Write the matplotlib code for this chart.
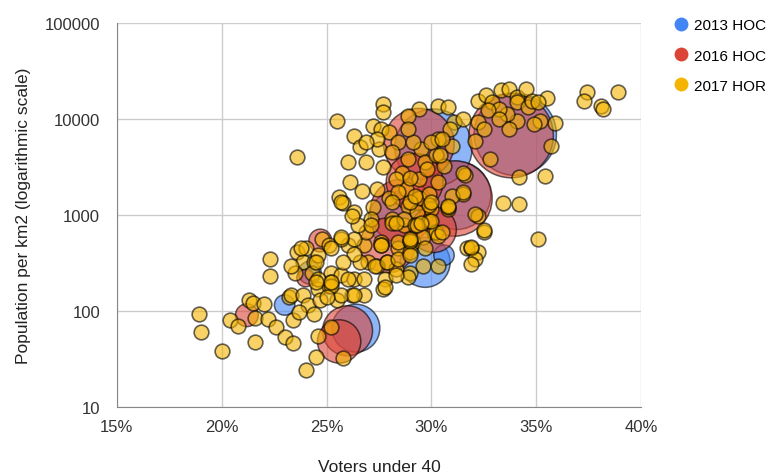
import numpy as np
import matplotlib
matplotlib.use("Agg")
import matplotlib.pyplot as plt
from matplotlib.lines import Line2D
from matplotlib.ticker import FuncFormatter

plt.rcParams['font.family'] = ['Liberation Sans', 'DejaVu Sans']

# 2013 HOC bubbles: voters under 40 (%), population per km2, bubble weight
hoc13_x = [34.0, 31.2, 30.1, 29.7, 30.6, 26.4, 28.3, 24.2, 23.0]
hoc13_y = [6900, 1600, 5000, 320, 380, 66, 900, 250, 115]
hoc13_w = [13.0, 9.0, 11.5, 4.8, 0.8, 4.4, 5.8, 1.0, 0.8]

# 2016 HOC bubbles
hoc16_x = [33.8, 31.1, 29.4, 28.6, 27.9, 26.0, 25.6, 24.7, 21.2, 24.0, 29.2, 30.1]
hoc16_y = [6700, 1480, 5500, 1100, 480, 62, 48, 540, 90, 220, 2200, 700]
hoc16_w = [13.7, 10.9, 9.6, 7.8, 5.8, 4.8, 3.6, 1.0, 1.0, 0.6, 6.2, 4.0]

# 2017 HOR electorates
hor17_x = [
    18.9, 19.0, 20.0, 20.4, 20.8, 21.3, 21.5, 21.6, 21.6, 22.0, 22.2, 22.3, 22.3,
    22.6, 23.0, 23.4, 23.4, 23.2, 24.0, 24.5, 24.6, 25.2, 25.8, 23.6, 25.5,
    23.6, 24.0, 23.9, 24.4, 23.5, 24.3, 25.2, 23.3, 23.9, 24.6, 25.1, 24.1,
    24.7, 25.5, 23.7, 24.4, 25.2, 25.7, 26.3, 26.8, 26.2, 25.7, 26.0, 26.8,
    27.6, 27.0, 27.8, 27.9, 23.8, 24.8, 25.1, 23.3,
    27.7, 27.7, 29.4, 28.9, 27.2, 26.3, 26.6, 27.6, 28.0, 28.4, 27.5, 26.0,
    26.9, 27.7, 28.6, 29.5, 29.7, 30.2, 30.3, 31.0, 28.9, 26.1, 26.7, 25.6,
    25.8, 26.3, 27.2, 28.0, 28.1, 28.8, 28.9, 29.4, 29.9, 30.0, 30.8, 31.5,
    31.6, 32.2, 30.1, 29.1, 28.4, 27.6, 26.9, 26.3, 25.7, 28.3, 29.0, 27.4,
    26.6, 26.0, 25.2, 24.6, 27.7, 32.2, 31.7,
    27.4, 26.9, 28.1, 29.1, 30.0, 30.6, 28.3, 29.4, 30.3, 31.0, 27.4, 28.4,
    27.1, 28.7, 26.5,
    25.7, 28.1, 26.2, 27.1, 28.1, 28.7, 29.3, 29.9, 29.9, 29.2, 28.4, 29.0,
    29.6, 30.2, 25.7, 25.2, 24.6, 26.3, 27.6, 27.3, 27.9, 28.4, 29.0, 29.6,
    28.9, 28.3, 27.8, 26.8, 26.3, 25.0, 25.2, 24.5, 24.5, 25.8,
    29.0, 30.8, 32.1, 28.3, 29.3, 30.0, 30.3, 29.0, 29.7, 29.0, 30.3, 31.9,
    32.1, 31.9,
    37.4, 37.3, 38.1, 38.2, 38.9, 35.5, 35.9, 35.7, 35.4, 34.2, 34.2, 33.4,
    35.1, 32.8, 32.2, 32.6, 32.9, 33.3, 33.7, 34.1, 34.5, 34.1, 34.6, 34.8,
    35.1, 35.2, 34.9, 34.1, 33.6, 33.2, 32.7, 32.2, 32.5, 33.2, 33.7, 32.1,
    30.3, 30.8, 31.1, 31.5, 30.9, 30.5, 28.9, 31.5, 31.5, 32.5, 32.5, 31.9,
    30.8, 30.0, 29.2, 29.5, 30.5, 29.0, 29.8, 29.0, 30.4,
]
hor17_y = [
    92, 60, 38, 81, 69, 130, 122, 84, 47, 117, 83, 350, 233,
    68, 53, 46, 80, 140, 24, 33, 55, 68, 32, 4050, 9600,
    410, 450, 325, 325, 250, 250, 250, 145, 145, 170, 182, 115,
    129, 129, 98, 93, 200, 235, 215, 145, 145, 145, 480, 480,
    520, 325, 215, 325, 450, 560, 480, 295,
    14400, 11700, 12600, 10700, 8500, 6700, 5100, 7900, 7300, 5700, 4900, 3570,
    3570, 3160, 2760, 4900, 3570, 4170, 6200, 5250, 3830, 2180, 1790, 1520,
    1340, 1070, 1200, 1480, 910, 1860, 1250, 1480, 1660, 1150, 1150, 1660,
    2570, 980, 660, 520, 450, 480, 660, 560, 560, 275, 250, 295,
    325, 215, 180, 215, 170, 410, 450,
    6200, 5750, 4470, 5750, 5750, 3240, 2340, 2340, 2190, 1580, 1860, 1740,
    910, 780, 780,
    1350, 1350, 980, 780, 830, 910, 1070, 1260, 870, 780, 525, 540,
    590, 660, 590, 450, 380, 390, 480, 295, 325, 345, 410, 295,
    225, 235, 178, 215, 145, 138, 200, 325, 200, 325,
    1350, 1200, 1020, 830, 780, 870, 600, 540, 450, 380, 295, 450,
    345, 310,
    19000, 15200, 13700, 12600, 19000, 16500, 9100, 5200, 2530, 2460, 1300, 1340,
    560, 3830, 15500, 17800, 15100, 19800, 20500, 16900, 20500, 14900, 13200, 15500,
    14900, 9600, 8900, 9600, 11200, 12600, 12300, 9300, 7900, 10000, 7900, 5900,
    13700, 13200, 9300, 10000, 7900, 6200, 7900, 2760, 1740, 660, 700, 460,
    1250, 1350, 1590, 830, 660, 560, 3000, 2400, 4170,
]

blue = '#4285F4'
red = '#DB4437'
yellow = '#F4B400'

fig = plt.figure(figsize=(7.79, 4.77), dpi=100)
ax = fig.add_axes([0.150, 0.145, 0.673, 0.805])

edge = (0, 0, 0, 0.75)
scale = 270  # points^2 per unit weight

ax.scatter(hoc13_x, hoc13_y, s=np.array(hoc13_w) * scale, color=blue, alpha=0.6,
           edgecolors=edge, linewidths=1.1, zorder=2)
ax.scatter(hoc16_x, hoc16_y, s=np.array(hoc16_w) * scale, color=red, alpha=0.6,
           edgecolors=edge, linewidths=1.1, zorder=3)
ax.scatter(hor17_x, hor17_y, s=112, color=yellow, alpha=0.6,
           edgecolors=edge, linewidths=1.2, zorder=4)

ax.set_yscale('log')
ax.set_xlim(15, 40)
ax.set_ylim(10, 100000)
ax.set_xticks([15, 20, 25, 30, 35, 40])
ax.xaxis.set_major_formatter(FuncFormatter(lambda v, p: f'{v:.0f}%'))
ax.set_yticks([10, 100, 1000, 10000, 100000])
ax.yaxis.set_major_formatter(FuncFormatter(lambda v, p: f'{v:.0f}'))
ax.yaxis.set_minor_locator(matplotlib.ticker.NullLocator())
ax.tick_params(length=0, labelsize=12, colors='#333333')
ax.tick_params(axis='x', pad=9)
ax.tick_params(axis='y', pad=12)
ax.grid(True, color='#cccccc', linewidth=1)
ax.set_axisbelow(True)
for side in ['top', 'right']:
    ax.spines[side].set_visible(False)
for side in ['left', 'bottom']:
    ax.spines[side].set_color('#888888')

ax.set_xlabel('Voters under 40', fontsize=12.5, color='#222222', labelpad=18)
ax.set_ylabel('Population per km2 (logarithmic scale)', fontsize=12.5, color='#222222', labelpad=10)

handles = [Line2D([], [], marker='o', linestyle='', markersize=10, color=c, markeredgewidth=0)
           for c in [blue, red, yellow]]
fig.legend(handles, ['2013 HOC', '2016 HOC', '2017 HOR'], loc='upper left',
           bbox_to_anchor=(0.855, 0.972), frameon=False, fontsize=11,
           labelspacing=1.05, handletextpad=0.25, handlelength=1.2, borderaxespad=0)

fig.savefig('out.png', dpi=100)
